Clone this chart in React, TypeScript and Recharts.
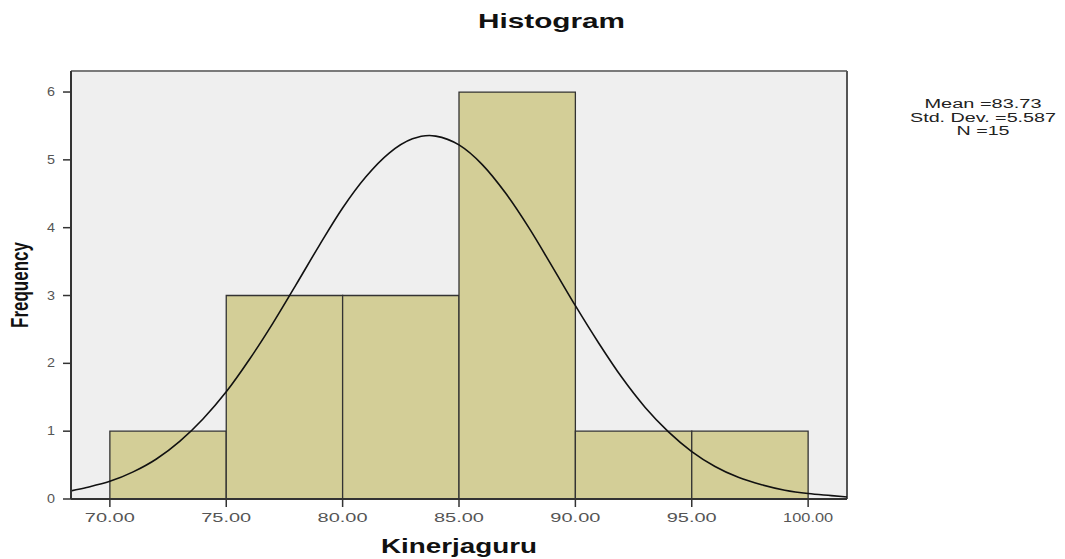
import { ComposedChart, Line, XAxis, YAxis, ReferenceArea, ReferenceLine } from "recharts";

const binStart = [70, 75, 80, 85, 90, 95];
const binEnd = [75, 80, 85, 90, 95, 100];
const frequency = [1, 3, 3, 6, 1, 1];

const xTicks = [70, 75, 80, 85, 90, 95, 100];
const yTicks = [0, 1, 2, 3, 4, 5, 6];

// normal curve
const curveX = [
  68.33, 69, 70, 71, 72, 73, 74, 75, 76, 77, 78, 79, 80, 81, 82, 83, 83.73, 84, 85,
  86, 87, 88, 89, 90, 91, 92, 93, 94, 95, 96, 97, 98, 99, 100, 101, 101.67,
];
const curveY = [
  0.12, 0.17, 0.26, 0.4, 0.59, 0.85, 1.18, 1.58, 2.06, 2.59, 3.16, 3.74, 4.29, 4.75, 5.1,
  5.31, 5.36, 5.35, 5.22, 4.93, 4.51, 4.0, 3.43, 2.85, 2.3, 1.79, 1.35, 0.99, 0.7, 0.48,
  0.32, 0.21, 0.13, 0.08, 0.05, 0.03,
];

const statLines = ["Mean =83.73", "Std. Dev. =5.587", "N =15"];

const X_MIN = 68.33;
const X_MAX = 101.67;
const Y_MAX = 6.31;

const font = "'Liberation Sans', Arial, sans-serif";

const XTick = (props: any) => {
  const { x, y, payload } = props;
  return (
    <text x={x} y={y} dy={13} textAnchor="middle" fontFamily={font} fontSize={13} fill="#555"
      textLength={50} lengthAdjust="spacingAndGlyphs">
      {payload.value.toFixed(2)}
    </text>
  );
};

const YTick = (props: any) => {
  const { x, y, payload } = props;
  return (
    <text x={x - 6} y={y} dy={4} textAnchor="end" fontFamily={font} fontSize={12} fill="#555"
      textLength={8} lengthAdjust="spacingAndGlyphs">
      {payload.value}
    </text>
  );
};

export default function App() {
  const curve = curveX.map((x, i) => ({ x, y: curveY[i] }));

  return (
    <div style={{ position: "absolute", left: 0, top: 0, width: 1065, height: 559, background: "#fff" }}>
      <ComposedChart width={1065} height={559} data={curve}
        margin={{ top: 71, right: 218, bottom: 0, left: 0 }}>
        <ReferenceArea x1={X_MIN} x2={X_MAX} y1={0} y2={Y_MAX} fill="#EFEFEF" fillOpacity={1}
          stroke="none" />
        <ReferenceLine y={Y_MAX} stroke="#7a7a7a" strokeWidth={2} />
        <ReferenceLine x={X_MAX} stroke="#555" strokeWidth={2} />
        {frequency.map((f, i) => (
          <ReferenceArea key={i} x1={binStart[i]} x2={binEnd[i]} y1={0} y2={f}
            fill="#D3CE97" fillOpacity={1} stroke="#333" strokeWidth={1.3} />
        ))}
        <Line dataKey="y" type="monotone" stroke="#111" strokeWidth={1.6} dot={false}
          isAnimationActive={false} />
        <XAxis dataKey="x" type="number" domain={[X_MIN, X_MAX]} ticks={xTicks} allowDataOverflow
          tickSize={8} height={60} axisLine={{ stroke: "#333", strokeWidth: 2 }} tick={<XTick />}
          tickLine={{ stroke: "#333", strokeWidth: 1.5 }} />
        <YAxis type="number" domain={[0, Y_MAX]} ticks={yTicks} allowDataOverflow width={71}
          tickSize={8} axisLine={{ stroke: "#333", strokeWidth: 2 }} tick={<YTick />}
          tickLine={{ stroke: "#333", strokeWidth: 1.5 }} />
      </ComposedChart>

      <svg width={1065} height={559} style={{ position: "absolute", left: 0, top: 0, pointerEvents: "none" }}>
        <text x={551.5} y={28} textAnchor="middle" fontFamily={font} fontWeight="bold" fontSize={21}
          fill="#111" textLength={147} lengthAdjust="spacingAndGlyphs">Histogram</text>
        <text x={459} y={553} textAnchor="middle" fontFamily={font} fontWeight="bold" fontSize={19.5}
          fill="#111" textLength={156} lengthAdjust="spacingAndGlyphs">Kinerjaguru</text>
        <text transform="translate(28,285) scale(1.4,1) rotate(-90)" textAnchor="middle" fontFamily={font}
          fontWeight="bold" fontSize={17} fill="#111">Frequency</text>
        {statLines.map((s, i) => (
          <text key={s} x={983} y={108 + i * 13.5} textAnchor="middle" fontFamily={font} fontSize={12}
            fill="#222" textLength={[117, 146, 53][i]} lengthAdjust="spacingAndGlyphs">{s}</text>
        ))}
      </svg>
    </div>
  );
}
